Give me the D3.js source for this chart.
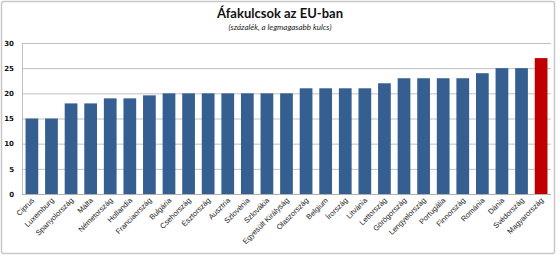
<!DOCTYPE html>
<html>
<head>
<meta charset="utf-8">
<script src="https://cdn.jsdelivr.net/npm/d3@7"></script>
<style>
  body { margin: 0; background: #fff; }
  svg { display: block; font-family: Lato, "Open Sans", sans-serif; }
</style>
</head>
<body>
<div id="chart"></div>
<script>
/* global d3 */

// data
let countries = ["Ciprus", "Luxemburg", "Spanyolország", "Málta", "Németország", "Hollandia",
    "Franciaország", "Bulgária", "Csehország", "Észtország", "Ausztria", "Szlovénia", "Szlovákia",
    "Egyesült Királyság", "Olaszország", "Belgium", "Írország", "Litvánia", "Lettország",
    "Görögország", "Lengyelország", "Portugália", "Finnország", "Románia", "Dánia", "Svédország",
    "Magyarország"];
let rates = [15, 15, 18, 18, 19, 19, 19.6, 20, 20, 20, 20, 20, 20, 20, 21, 21, 21, 21, 22,
    23, 23, 23, 23, 24, 25, 25, 27];
let yTicks = [0, 5, 10, 15, 20, 25, 30];
let highlight = "Magyarország";

let SVGwidth = 560,
    SVGheight = 257,
    margin = {top: 43, right: 9, bottom: 63, left: 22},
    width = SVGwidth - margin.left - margin.right,
    height = SVGheight - margin.top - margin.bottom;

let root = d3.select("#chart").append("svg")
    .attr("width", SVGwidth)
    .attr("height", SVGheight);

// outer chart frame
root.append("rect")
    .attr("x", 1.5).attr("y", 1.5)
    .attr("width", 553).attr("height", 252)
    .attr("rx", 2)
    .style("fill", "none")
    .style("stroke", "#c8c8c8")
    .style("stroke-width", 1.5);

root.append("text")
    .attr("x", 280).attr("y", 18)
    .style("text-anchor", "middle")
    .style("font-weight", "bold")
    .style("font-size", "13px")
    .style("fill", "#111")
    .text("Áfakulcsok az EU-ban");

root.append("text")
    .attr("x", 280).attr("y", 30)
    .style("text-anchor", "middle")
    .style("font-style", "italic")
    .style("font-size", "8px")
    .style("fill", "#222")
    .text("(százalék, a legmagasabb kulcs)");

let svg = root.append("g")
    .attr("transform", "translate(" + margin.left + "," + margin.top + ")");

let xScale = d3.scaleBand()
    .domain(countries)
    .range([0, width])
    .paddingInner(0.35)
    .paddingOuter(0.18);

let yScale = d3.scaleLinear()
    .domain([0, 30])
    .range([height, 0]);

// gridlines
svg.selectAll(".grid")
    .data(yTicks.filter(function(d) { return d > 0; }))
    .enter().append("line")
    .attr("class", "grid")
    .attr("x1", 0).attr("x2", width)
    .attr("y1", function(d) { return yScale(d) + 0.5; })
    .attr("y2", function(d) { return yScale(d) + 0.5; })
    .style("stroke", "#c0c0c0")
    .style("stroke-width", 1);

// left plot border
svg.append("line")
    .attr("x1", 0.5).attr("x2", 0.5)
    .attr("y1", 0).attr("y2", height)
    .style("stroke", "#c0c0c0");

svg.selectAll(".bar")
    .data(rates)
    .enter().append("rect")
    .attr("class", "bar")
    .attr("x", function(d, i) { return xScale(countries[i]); })
    .attr("width", xScale.bandwidth())
    .attr("y", function(d) { return yScale(d); })
    .attr("height", function(d) { return height - yScale(d); })
    .style("fill", function(d, i) { return countries[i] == highlight ? "#c00000" : "#365f91"; });

// x axis line
svg.append("line")
    .attr("x1", 0).attr("x2", width)
    .attr("y1", height + 0.5).attr("y2", height + 0.5)
    .style("stroke", "#b0b0b0");

let yAxis = d3.axisLeft(yScale).tickValues(yTicks).tickSize(0).tickPadding(8);
svg.append("g")
    .attr("class", "yAxis")
    .call(yAxis)
    .call(function(g) { g.select(".domain").remove(); })
    .selectAll("text")
    .style("font-family", "\"DejaVu Sans\", sans-serif")
    .style("font-weight", "bold")
    .style("font-size", "7px")
    .style("fill", "#111");

let xAxis = d3.axisBottom(xScale).tickSize(0).tickPadding(0);
svg.append("g")
    .attr("class", "xAxis")
    .attr("transform", "translate(0," + height + ")")
    .call(xAxis)
    .call(function(g) { g.select(".domain").remove(); })
    .selectAll("text")
    .attr("transform", "translate(1,5) rotate(-45)")
    .attr("dy", "0.35em")
    .style("text-anchor", "end")
    .style("font-size", "7.5px")
    .style("fill", "#222")
    .attr("y", 0)
    .attr("x", 0);
</script>
</body>
</html>
